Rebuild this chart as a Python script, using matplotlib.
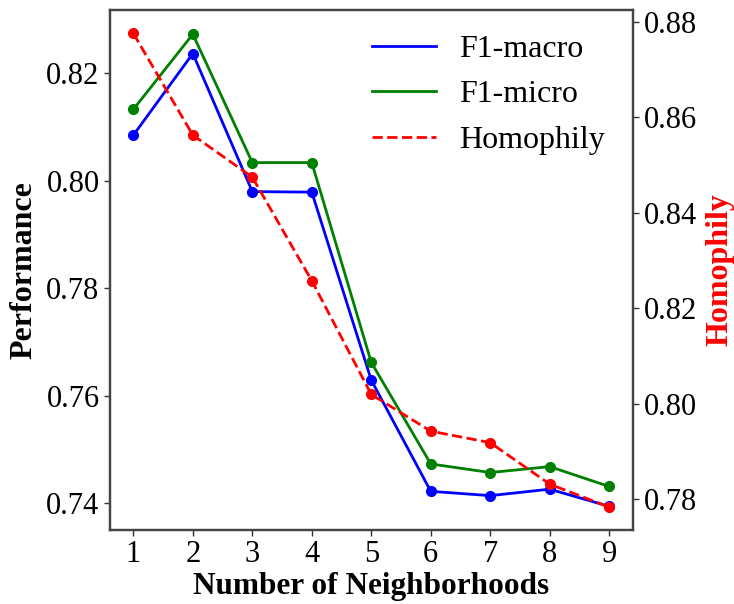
import matplotlib
matplotlib.use("Agg")
import matplotlib.pyplot as plt
from matplotlib.lines import Line2D

neighborhoods = [1, 2, 3, 4, 5, 6, 7, 8, 9]
f1_macro = [0.8085, 0.8237, 0.7980, 0.7979, 0.7629, 0.7422, 0.7414, 0.7426, 0.7394]
f1_micro = [0.8133, 0.8273, 0.8034, 0.8034, 0.7662, 0.7473, 0.7457, 0.7468, 0.7431]
homophily = [0.8776, 0.8563, 0.8475, 0.8258, 0.8020, 0.7943, 0.7919, 0.7832, 0.7784]

left_ticks = [0.74, 0.76, 0.78, 0.80, 0.82]
right_ticks = [0.78, 0.80, 0.82, 0.84, 0.86, 0.88]

plt.rcParams['font.family'] = ['Liberation Serif', 'DejaVu Serif']

fig = plt.figure(figsize=(7.34, 6.04), dpi=100)
ax = fig.add_axes([0.1499, 0.1225, 0.8624 - 0.1499, 0.9834 - 0.1225])
ax2 = ax.twinx()

ax.plot(neighborhoods, f1_macro, color='blue', marker='o', markersize=7, linewidth=2)
ax.plot(neighborhoods, f1_micro, color='green', marker='o', markersize=7, linewidth=2)
ax2.plot(neighborhoods, homophily, color='red', marker='o', markersize=7, linewidth=2, linestyle='--')

ax.set_xlim(0.608, 9.4)
ax.set_ylim(0.7350, 0.8318)
ax2.set_ylim(0.7736, 0.8825)
ax.set_xticks(neighborhoods)
ax.set_yticks(left_ticks)
ax.set_yticklabels([f"{v:.2f}" for v in left_ticks])
ax2.set_yticks(right_ticks)
ax2.set_yticklabels([f"{v:.2f}" for v in right_ticks])

for a in (ax, ax2):
    a.tick_params(labelsize=22, length=4, width=1, color='#333333')
    for s in a.spines.values():
        s.set_color('#444444')
        s.set_linewidth(1.6)

ax.set_xlabel('Number of Neighborhoods', fontsize=22.5, fontweight='bold', labelpad=2)
ax.set_ylabel('Performance', fontsize=23, fontweight='bold', labelpad=6)
ax2.set_ylabel('Homophily', fontsize=23, fontweight='bold', color='red', labelpad=6)

handles = [
    Line2D([], [], color='blue', linewidth=2, label='F1-macro'),
    Line2D([], [], color='green', linewidth=2, label='F1-micro'),
    Line2D([], [], color='red', linewidth=2, linestyle='--', label='Homophily'),
]
ax.legend(handles=handles, loc='upper right', frameon=False, fontsize=23,
          handlelength=2.0, handletextpad=0.72, labelspacing=0.5,
          borderaxespad=0, bbox_to_anchor=(0.971, 0.977))

fig.savefig('out.png', dpi=100)
